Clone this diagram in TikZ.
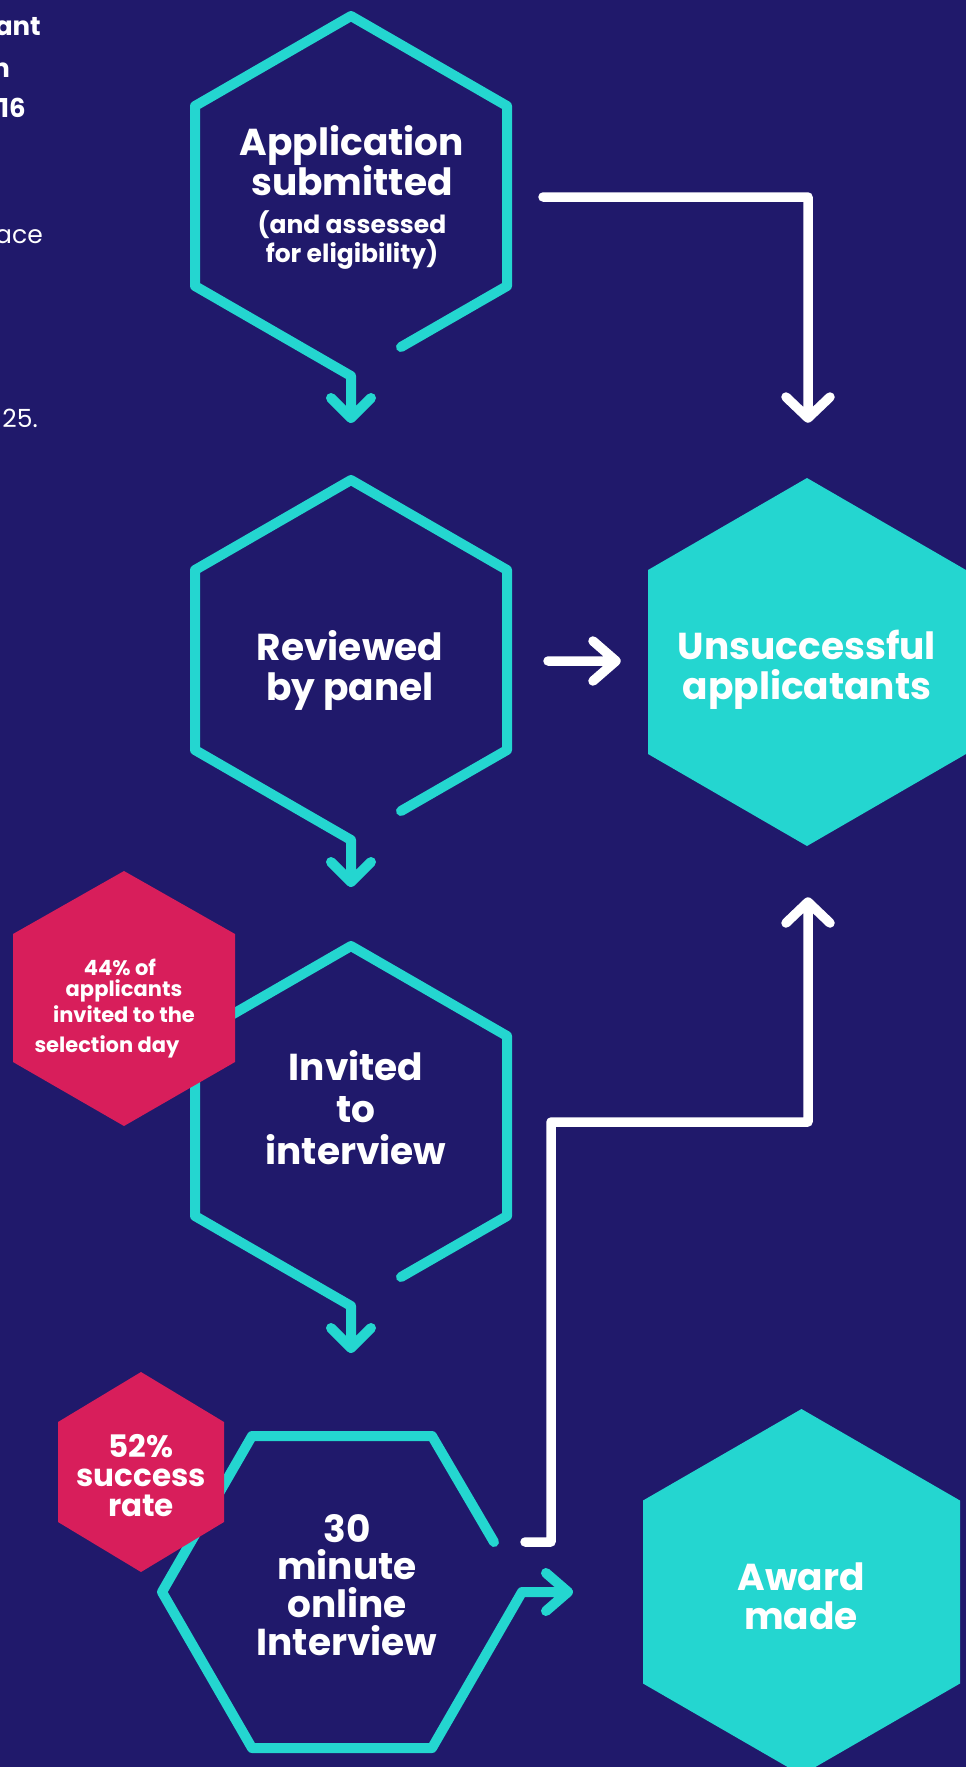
\documentclass[tikz,border=0pt]{standalone}
\usepackage{fontspec}
\setmainfont{Poppins}
\definecolor{navy}{RGB}{32,25,107}
\definecolor{aqua}{RGB}{36,214,208}
\definecolor{pinkc}{RGB}{216,30,91}
\tikzset{
  outline/.style={draw=aqua,line width=10pt,line join=round,line cap=round},
  wline/.style={draw=white,line width=9.5pt,line join=round,line cap=round},
  aquahex/.style={fill=aqua},
  pinkhex/.style={fill=pinkc},
  txt/.style={text=white,anchor=base,inner sep=0pt},
  bigtxt/.style={txt,font=\fontsize{37.5}{40}\selectfont\bfseries},
  midtxt/.style={txt,font=\fontsize{25}{28}\selectfont\bfseries},
  pinkbig/.style={txt,font=\fontsize{31}{32}\selectfont\bfseries},
  pinksmall/.style={txt,font=\fontsize{21}{24}\selectfont\bfseries},
  leftbold/.style={txt,anchor=base east,font=\fontsize{26}{28}\selectfont\bfseries},
  leftreg/.style={txt,anchor=base east,font=\fontsize{25}{28}\selectfont},
}
\begin{document}
\begin{tikzpicture}[x=1pt,y=-1pt]
\useasboundingbox (0,0) rectangle (966,1767);
\fill[navy] (0,0) rectangle (966,1767);

% ---------- coordinates ----------
% hex 1
\coordinate (h1T) at (351,16);   \coordinate (h1UR) at (507,106);
\coordinate (h1LR) at (507,286); \coordinate (h1B) at (351,376);
\coordinate (h1LL) at (195,286); \coordinate (h1UL) at (195,106);
\coordinate (h1gap) at (401,347); \coordinate (h1tip) at (351,418);
% hex 2
\coordinate (h2T) at (351,480);  \coordinate (h2UR) at (507,570);
\coordinate (h2LR) at (507,750); \coordinate (h2B) at (351,840);
\coordinate (h2LL) at (195,750); \coordinate (h2UL) at (195,570);
\coordinate (h2gap) at (401,811); \coordinate (h2tip) at (351,882);
% hex 3
\coordinate (h3T) at (351,946);   \coordinate (h3UR) at (507,1036);
\coordinate (h3LR) at (507,1216); \coordinate (h3B) at (351,1306);
\coordinate (h3LL) at (195,1216); \coordinate (h3UL) at (195,1036);
\coordinate (h3gap) at (401,1277); \coordinate (h3tip) at (351,1348);
% hex 4 (flat top)
\coordinate (h4L) at (162,1592);  \coordinate (h4TL) at (252,1436);
\coordinate (h4TR) at (432,1436); \coordinate (h4R) at (522,1592);
\coordinate (h4BR) at (432,1748); \coordinate (h4BL) at (252,1748);
\coordinate (h4gap) at (494,1542); \coordinate (h4tip) at (568,1592);

% ---------- outlined hexagons with their arrows ----------
\draw[outline] (h1gap) -- (h1LR) -- (h1UR) -- (h1T) -- (h1UL) -- (h1LL) -- (h1B) -- (h1tip)
  -- ++(-20,-20) (h1tip) -- ++(20,-20);
\draw[outline] (h2gap) -- (h2LR) -- (h2UR) -- (h2T) -- (h2UL) -- (h2LL) -- (h2B) -- (h2tip)
  -- ++(-20,-20) (h2tip) -- ++(20,-20);
\draw[outline] (h3gap) -- (h3LR) -- (h3UR) -- (h3T) -- (h3UL) -- (h3LL) -- (h3B) -- (h3tip)
  -- ++(-20,-20) (h3tip) -- ++(20,-20);
\draw[outline] (h4gap) -- (h4TR) -- (h4TL) -- (h4L) -- (h4BL) -- (h4BR) -- (h4R) -- (h4tip)
  -- ++(-22,-19) (h4tip) -- ++(-22,19);

% ---------- pink badges ----------
\fill[pinkhex] (124,871) -- (235,934) -- (235,1062) -- (124,1126) -- (13,1062) -- (13,934) -- cycle;
\fill[pinkhex] (141,1372) -- (224,1422) -- (224,1522) -- (141,1572) -- (58,1522) -- (58,1422) -- cycle;

% ---------- filled aqua hexagons ----------
\fill[aquahex] (807,478) -- (966,570) -- (966,754) -- (807,846) -- (648,754) -- (648,570) -- cycle;
\fill[aquahex] (801.5,1409) -- (960,1500.5) -- (960,1683.5) -- (801.5,1775) -- (643,1683.5) -- (643,1500.5) -- cycle;

% ---------- white connectors ----------
\coordinate (w1s) at (543,197); \coordinate (w1c) at (808,197); \coordinate (w1tip) at (808,418);
\draw[wline] (w1s) -- (w1c) -- (w1tip) -- ++(-22,-21) (w1tip) -- ++(22,-21);
\coordinate (w2s) at (548,661); \coordinate (w2tip) at (616,661);
\draw[wline] (w2s) -- (w2tip) -- ++(-23,-20) (w2tip) -- ++(-23,20);
\coordinate (w3s) at (525,1542); \coordinate (w3a) at (551,1542);
\coordinate (w3b) at (551,1122); \coordinate (w3c) at (808,1122); \coordinate (w3tip) at (808,902);
\draw[wline] (w3s) -- (w3a) -- (w3b) -- (w3c) -- (w3tip) -- ++(-22,21) (w3tip) -- ++(22,21);

% ---------- texts ----------
\node[bigtxt] (t1a) at (352,155) {Application};
\node[bigtxt] (t1b) at (352,195) {submitted};
\node[midtxt] (t1c) at (352,233) {(and assessed};
\node[midtxt] (t1d) at (352,262) {for eligibility)};

\node[bigtxt] (t2a) at (350,660) {Reviewed};
\node[bigtxt] (t2b) at (350,700) {by panel};

\node[bigtxt] (t3a) at (356,1080) {Invited};
\node[bigtxt] (t3b) at (356,1122) {to};
\node[bigtxt] (t3c) at (356,1164) {interview};

\node[bigtxt] (t4a) at (347,1542) {30};
\node[bigtxt] (t4b) at (347,1579) {minute};
\node[bigtxt] (t4c) at (347,1617) {online};
\node[bigtxt] (t4d) at (347,1655) {Interview};

\node[bigtxt] (u1) at (807,659) {Unsuccessful};
\node[bigtxt] (u2) at (807,699) {applicatants};

\node[bigtxt] (a1) at (801,1590) {Award};
\node[bigtxt] (a2) at (801,1629) {made};

\node[pinksmall] (p1a) at (120,975) {44\% of};
\node[pinksmall] (p1b) at (124,996) {applicants};
\node[pinksmall] (p1c) at (124,1022) {invited to the};
\node[pinksmall] (p1d) at (107,1052) {selection day};

\node[pinkbig] (p2a) at (141,1457) {52\%};
\node[pinkbig] (p2b) at (141,1486) {success};
\node[pinkbig] (p2c) at (141,1516) {rate};

% ---------- clipped left column ----------
\node[leftbold] (l1) at (41,35) {ant};
\node[leftbold] (l2) at (10,77) {n};
\node[leftbold] (l3) at (26,117) {16};
\node[leftreg] (l4) at (43,243) {ace};
\node[leftreg] (l5) at (38,427) {25.};
\end{tikzpicture}
\end{document}
